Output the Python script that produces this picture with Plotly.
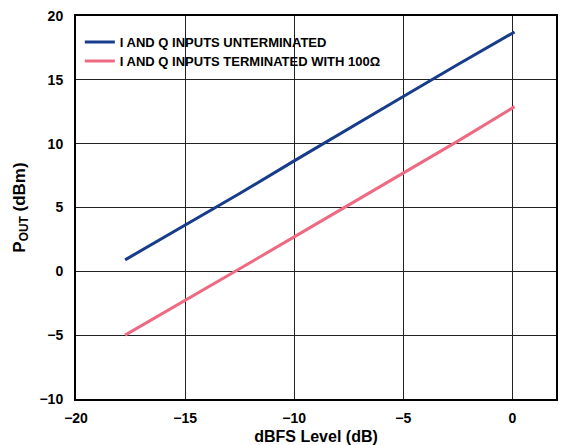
import plotly.graph_objects as go

dbfs_level = [-17.75, -15.0, -12.5, -10.0, -7.5, -5.0, -2.5, 0.1]
pout_unterminated = [0.9, 3.6, 6.1, 8.65, 11.2, 13.7, 16.2, 18.75]
pout_terminated = [-5.0, -2.3, 0.2, 2.7, 5.2, 7.7, 10.2, 12.9]

x_ticks = [-20, -15, -10, -5, 0]
x_tick_labels = ["\u221220", "\u221215", "\u221210", "\u22125", "0"]
y_ticks = [-10, -5, 0, 5, 10, 15, 20]
y_tick_labels = ["\u221210", "\u22125", "0", "5", "10", "15", "20"]

font = "Liberation Sans, Arial, sans-serif"

fig = go.Figure()
fig.add_trace(go.Scatter(x=dbfs_level, y=pout_unterminated, mode="lines",
                         name="<b>I AND Q INPUTS UNTERMINATED</b>",
                         line=dict(color="#163c8a", width=3), legend="legend"))
fig.add_trace(go.Scatter(x=dbfs_level, y=pout_terminated, mode="lines",
                         name="<b>I AND Q INPUTS TERMINATED WITH 100\u03a9</b>",
                         line=dict(color="#ee6a83", width=3), legend="legend2"))

leg_common = dict(xanchor="left", yanchor="middle", bgcolor="rgba(0,0,0,0)",
                  font=dict(size=13, family=font), itemwidth=30)

fig.update_layout(
    width=556, height=437,
    margin=dict(l=68, r=8, t=8, b=46, autoexpand=False),
    paper_bgcolor="white", plot_bgcolor="white",
    font=dict(family=font, color="black", size=14),
    showlegend=True,
    legend=dict(x=0.008, y=0.932, **leg_common),
    legend2=dict(x=0.008, y=0.8825, **leg_common),
    xaxis=dict(range=[-20, 2], tickvals=x_ticks, ticktext=["<b>%s</b>" % t for t in x_tick_labels],
               showgrid=True, gridcolor="#222", gridwidth=1.3,
               showline=True, linecolor="black", linewidth=2, mirror=True,
               ticks="", zeroline=False, ticklabelstandoff=5, automargin=False,
               ticklabeloverflow="allow",
               tickfont=dict(size=14),
               title=dict(text="<b>dBFS Level (dB)</b>", standoff=10, font=dict(size=16))),
    yaxis=dict(range=[-10, 20], tickvals=y_ticks, ticktext=["<b>%s</b>" % t for t in y_tick_labels],
               showgrid=True, gridcolor="#222", gridwidth=1.3,
               showline=True, linecolor="black", linewidth=2, mirror=True,
               ticks="", zeroline=False, ticklabelstandoff=8, automargin=False,
               ticklabeloverflow="allow",
               tickfont=dict(size=14),
               title=dict(text="<b>P<sub>OUT</sub> (dBm)</b>", standoff=10, font=dict(size=17))),
)

fig.add_annotation(text="08803-005", xref="paper", yref="paper",
                   x=1.0, y=-0.102, xanchor="left", yanchor="top",
                   xshift=6, showarrow=False, textangle=-90,
                   font=dict(size=9, color="#333", family=font))

fig.write_html("out.html")
